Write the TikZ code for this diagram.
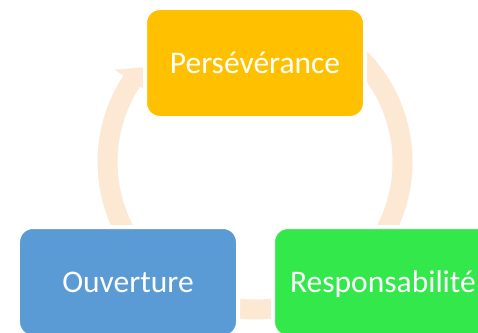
\documentclass[tikz,border=0pt]{standalone}
\usepackage{fontspec}
\setmainfont{Carlito}
\usetikzlibrary{calc}
\definecolor{gold}{RGB}{255,192,0}
\definecolor{bluebox}{RGB}{91,155,213}
\definecolor{greenbox}{RGB}{50,232,74}
\definecolor{band}{RGB}{253,233,211}
\begin{document}
\begin{tikzpicture}[x=1bp,y=1bp,
  box/.style={draw=white, line width=4bp, rounded corners=15bp,
    minimum width=220bp, minimum height=110bp, inner sep=0pt,
    text=white, text height=20bp, text depth=0bp,
    font=\fontsize{31.5bp}{36bp}\selectfont},
  bandline/.style={draw=band, line width=20bp}]
\useasboundingbox (0,0) rectangle (478,332);
\clip (0,0) rectangle (478,332);
\coordinate (c) at (255,170);
% connectors (arcs of the cycle)
\draw[bandline] (c) ++(215:147.5) arc[start angle=215, end angle=146.7, radius=147.5];
\coordinate (hb1) at ($(c)+(146.7:168)$);
\coordinate (hb2) at ($(c)+(146.7:127)$);
\coordinate (ht) at (158,266);
\fill[band] (hb1) -- (ht) -- (hb2) -- cycle;
\draw[bandline] (c) ++(60:147.5) arc[start angle=60, end angle=-40, radius=147.5];
\draw[bandline] (c) ++(285:147.5) arc[start angle=285, end angle=255, radius=147.5];
% boxes
\node[box, fill=gold] (p) at (255,269) {Persévérance};
\node[box, fill=bluebox] (o) at (128,50) {Ouverture};
\node[box, fill=greenbox] (r) at (383,50) {Responsabilité};
\end{tikzpicture}
\end{document}
